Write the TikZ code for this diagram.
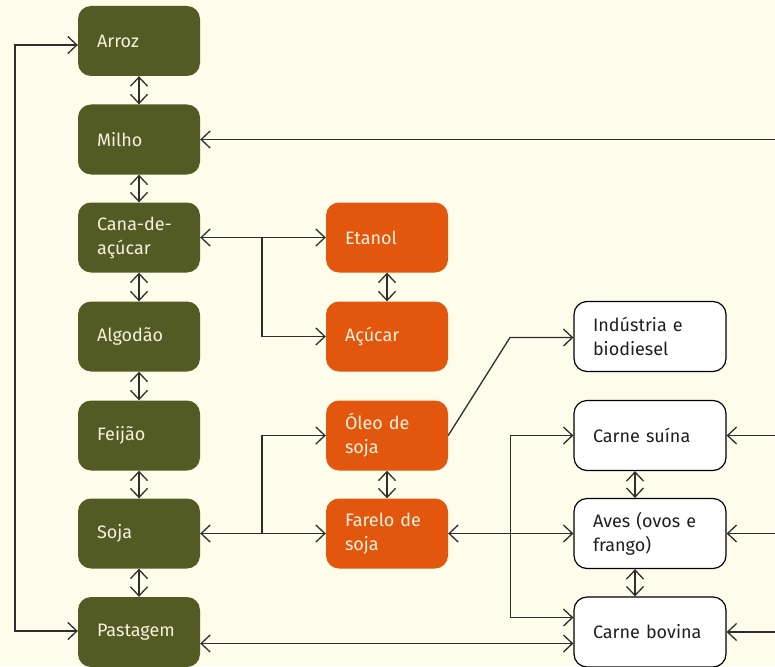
\documentclass[tikz,border=0pt]{standalone}
\usepackage{fontspec}
\setmainfont{Fira Sans}
\usetikzlibrary{arrows.meta}
\definecolor{bg}{HTML}{FEFDEB}
\definecolor{olive}{HTML}{535B24}
\definecolor{orng}{HTML}{E3560E}
\definecolor{ln}{HTML}{2E2E2E}
\definecolor{lt}{HTML}{F4F2DC}
\begin{document}
\begin{tikzpicture}[x=1pt,y=-1pt,
 box/.style={rectangle, rounded corners=13pt, minimum height=70pt, inner xsep=19pt, inner ysep=0pt, align=left, font=\fontsize{18}{24}\selectfont},
 gbox/.style={box, fill=olive, text=lt, text width=84pt},
 obox/.style={box, fill=orng, text=lt, text width=84pt},
 wbox/.style={box, fill=white, draw=black, line width=1.2pt, text=black!88, text width=114pt},
 conn/.style={draw=ln, line width=1.3pt},
 >={Straight Barb[length=9pt,width=17pt]}
]
\fill[bg] (0,0) rectangle (775,666);
\useasboundingbox (0,0) rectangle (775,666);
% green column
\node[gbox] (arroz) at (139,41) {Arroz};
\node[gbox] (milho) at (139,139.5) {Milho};
\node[gbox] (cana) at (139,237.5) {Cana-de-\\açúcar};
\node[gbox] (algodao) at (139,336.5) {Algodão};
\node[gbox] (feijao) at (139,435.5) {Feijão};
\node[gbox] (soja) at (139,533.5) {Soja};
\node[gbox] (pastagem) at (139,632) {Pastagem};
% orange column
\node[obox] (etanol) at (387,237.5) {Etanol};
\node[obox] (acucar) at (387,336.5) {Açúcar};
\node[obox] (oleo) at (387,435.5) {Óleo de\\soja};
\node[obox] (farelo) at (387,533.5) {Farelo de\\soja};
% white column
\node[wbox] (industria) at (650,336.5) {Indústria e\\biodiesel};
\node[wbox] (suina) at (650,435.5) {Carne suína};
\node[wbox] (aves) at (650,533.5) {Aves (ovos e\\frango)};
\node[wbox] (bovina) at (650,632) {Carne bovina};
% vertical double arrows
\draw[conn,<->] (arroz.south) -- (milho.north);
\draw[conn,<->] (milho.south) -- (cana.north);
\draw[conn,<->] (cana.south) -- (algodao.north);
\draw[conn,<->] (algodao.south) -- (feijao.north);
\draw[conn,<->] (feijao.south) -- (soja.north);
\draw[conn,<->] (soja.south) -- (pastagem.north);
\draw[conn,<->] (etanol.south) -- (acucar.north);
\draw[conn,<->] (oleo.south) -- (farelo.north);
\draw[conn,<->] ([xshift=-15pt]suina.south) -- ([xshift=-15pt]aves.north);
\draw[conn,<->] ([xshift=-15pt]aves.south) -- ([xshift=-15pt]bovina.north);
% left loop
\coordinate (lt) at (15,45);
\coordinate (lb) at (15,631);
\draw[conn,<->] (arroz.west |- lt) -- (lt) -- (lb) -- (pastagem.west |- lb);
% right edge inputs
\coordinate (rm) at (775,139.5);
\coordinate (rs) at (775,435.5);
\coordinate (ra) at (775,533.5);
\coordinate (rb) at (775,632);
\draw[conn,->] (rm) -- (milho.east);
\draw[conn,->] (rs) -- (suina.east);
\draw[conn,->] (ra) -- (aves.east);
\draw[conn,->] (rb) -- (bovina.east);
% cana branches
\coordinate (b1) at (262,237.5);
\draw[conn,<->] (cana.east) -- (etanol.west);
\draw[conn,->] (b1) |- (acucar.west);
% soja branches
\coordinate (b2) at (262,533.5);
\draw[conn,<->] (soja.east) -- (farelo.west);
\draw[conn,->] (b2) |- (oleo.west);
% oleo to industria
\coordinate (k) at (510,337.5);
\draw[conn,->] (oleo.east) -- (k) -- (industria.west |- k);
% farelo to animals
\draw[conn,<->] (farelo.east) -- (aves.west);
\coordinate (v1) at (510.5,435.5);
\coordinate (v2) at (510.5,617.5);
\draw[conn,<->] (suina.west) -- (v1) -- (v2) -- (bovina.west |- v2);
% pastagem to bovina
\coordinate (p) at (400,643.5);
\draw[conn,<->] (pastagem.east |- p) -- (bovina.west |- p);
\end{tikzpicture}
\end{document}
